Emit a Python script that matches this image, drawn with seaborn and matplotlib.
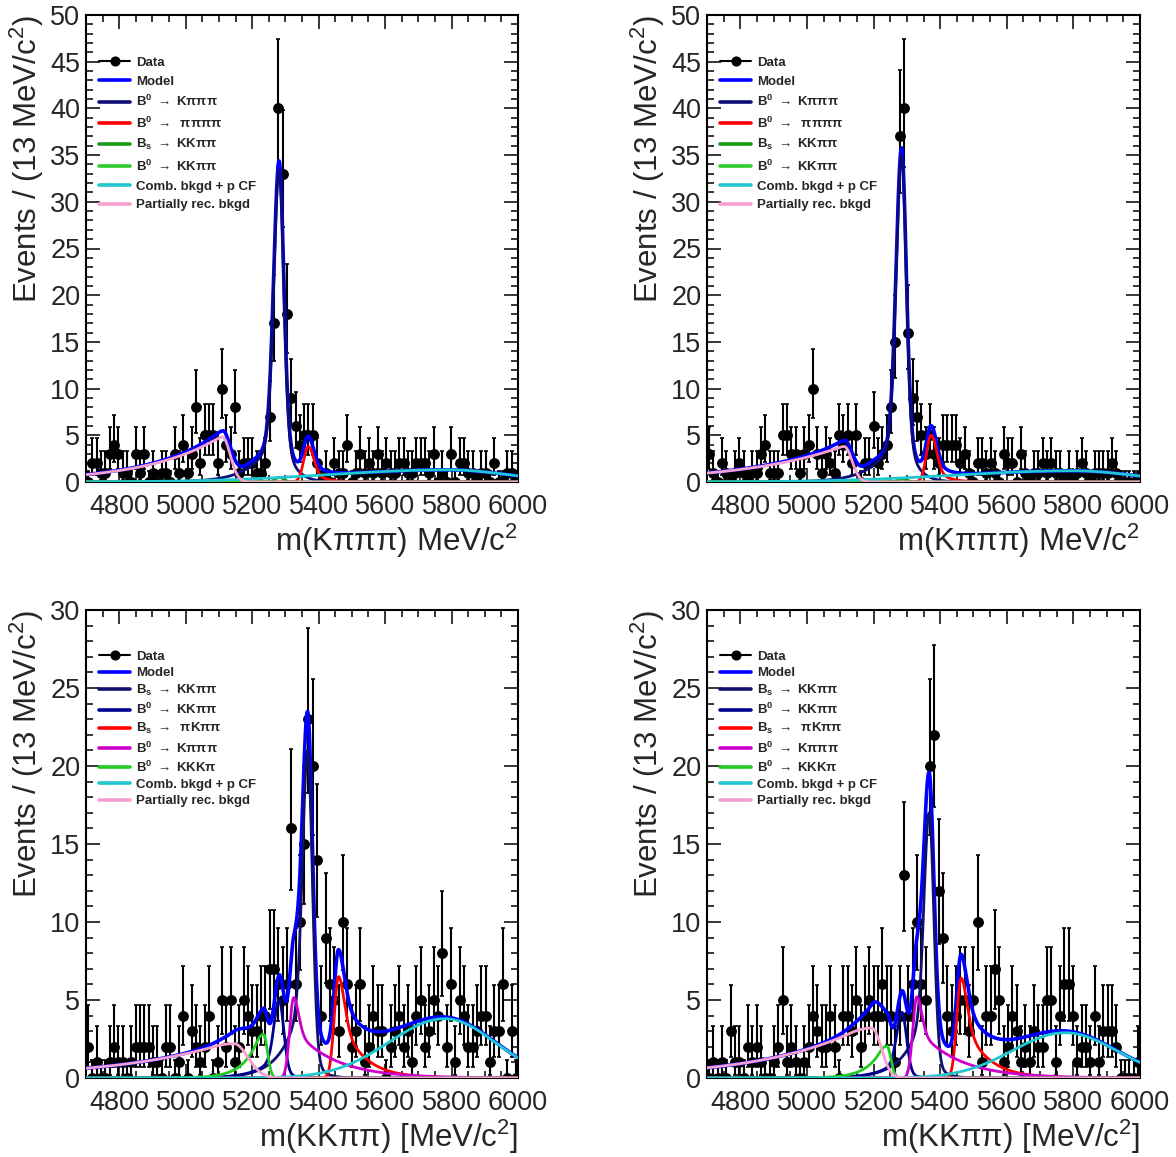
import numpy as np
import pandas as pd
import matplotlib
matplotlib.use("Agg")
import matplotlib.pyplot as plt
import seaborn as sns
from matplotlib.lines import Line2D
from matplotlib.ticker import MultipleLocator

sns.set_style("ticks")
plt.rcParams["font.family"] = ["Liberation Sans", "DejaVu Sans"]
plt.rcParams["mathtext.fontset"] = "custom"
plt.rcParams["mathtext.rm"] = "Liberation Sans"
plt.rcParams["mathtext.bf"] = "Liberation Sans:bold"
plt.rcParams["mathtext.it"] = "Liberation Sans:italic"

# ---------------- binning ----------------
X_LO, X_HI, BIN_W = 4700, 6000, 13
x_ticks = [4800, 5000, 5200, 5400, 5600, 5800, 6000]

# ---------------- data (events per 13 MeV bin) ----------------
counts_tl = [0, 2, 2, 1, 1, 3, 4, 3, 1, 1,
             0, 3, 1, 3, 0, 1, 0, 1, 1, 0,
             3, 1, 4, 1, 3, 8, 2, 5, 5, 5,
             2, 10, 4, 3, 8, 1, 2, 2, 2, 1,
             1, 2, 7, 17, 40, 33, 18, 9, 6, 4,
             5, 5, 5, 2, 0, 1, 0, 2, 1, 1,
             4, 0, 1, 3, 1, 2, 1, 3, 1, 2,
             1, 1, 2, 2, 1, 1, 2, 2, 2, 1,
             3, 0, 1, 0, 3, 0, 2, 2, 1, 1,
             0, 1, 1, 0, 2, 0, 0, 1, 1, 0]

counts_tr = [3, 1, 0, 2, 1, 0, 1, 2, 1, 0,
             1, 1, 3, 4, 1, 1, 1, 5, 5, 3,
             3, 1, 3, 4, 10, 3, 1, 3, 2, 1,
             5, 4, 5, 2, 5, 0, 2, 2, 6, 2,
             3, 4, 8, 15, 37, 40, 16, 9, 7, 5,
             3, 5, 3, 2, 4, 4, 4, 4, 2, 3,
             1, 0, 2, 2, 1, 2, 1, 0, 3, 2,
             2, 0, 3, 1, 0, 1, 1, 2, 1, 2,
             1, 1, 0, 1, 0, 1, 2, 1, 0, 1,
             1, 1, 1, 2, 1, 0, 0, 0, 0, 0]

counts_bl = [2, 0, 1, 0, 0, 1, 2, 1, 1, 0,
             1, 2, 2, 2, 2, 1, 1, 0, 2, 2,
             0, 1, 4, 0, 3, 2, 1, 2, 4, 0,
             1, 5, 2, 5, 1, 2, 5, 4, 3, 3,
             4, 4, 7, 7, 6, 5, 6, 16, 6, 10,
             15, 23, 20, 14, 4, 9, 6, 5, 3, 10,
             6, 2, 3, 6, 1, 2, 4, 3, 3, 0,
             2, 3, 4, 2, 3, 1, 4, 5, 2, 3,
             5, 4, 8, 2, 6, 1, 5, 4, 2, 2,
             3, 4, 4, 1, 3, 3, 6, 0, 3, 0]

counts_br = [0, 1, 0, 1, 0, 3, 1, 1, 0, 2,
             1, 2, 1, 0, 0, 1, 2, 5, 1, 2,
             1, 0, 1, 2, 4, 3, 2, 2, 4, 2,
             0, 4, 4, 3, 5, 2, 4, 5, 4, 4,
             6, 4, 4, 1, 4, 13, 4, 6, 10, 6,
             5, 20, 22, 12, 9, 4, 3, 4, 5, 5,
             3, 5, 10, 1, 4, 4, 7, 5, 1, 2,
             4, 3, 1, 2, 1, 3, 2, 2, 5, 5,
             1, 4, 6, 6, 4, 1, 2, 2, 1, 4,
             1, 3, 3, 3, 2, 0, 0, 0, 0, 1]

# ---------------- fit components ----------------
# (legend label, colour, peak position, peak height, left side, right side)
# side = (core sigma, tail fraction, tail sigma, tail decay length)
NAVY_L = (16, 0.17, 30, 65)
NAVY_R = (14, 0.20, 20, 30)
comps_tl = [
    (r"B$^{\mathbf{0}}$ $\rightarrow$ Kπππ", "#0c0c78", 5281, 33.4, NAVY_L, NAVY_R),
    (r"B$^{\mathbf{0}}$ $\rightarrow$  ππππ", "#ff0000", 5369, 3.8, (14, 0, 1, 1), (16, 0.3, 25, 35)),
    (r"B$_{\mathbf{s}}$ $\rightarrow$ KKππ", "#139a13", 5282, 0.5, (13, 0, 1, 1), (13, 0, 1, 1)),
    (r"B$^{\mathbf{0}}$ $\rightarrow$ KKππ", "#2fcc2f", 5195, 0.12, (20, 0, 1, 1), (20, 0, 1, 1)),
    ("Comb. bkgd + p CF", "#1fc8cf", 5790, 1.3, (360, 0, 1, 1), (180, 0, 1, 1)),
    ("Partially rec. bkgd", "#f5a0cf", 5111, 4.8, (30, 1.0, 60, 222), (23, 0, 1, 1)),
]
comps_tr = [
    (r"B$^{\mathbf{0}}$ $\rightarrow$ Kπππ", "#0c0c78", 5284, 35.0, NAVY_L, NAVY_R),
    (r"B$^{\mathbf{0}}$ $\rightarrow$  ππππ", "#ff0000", 5373, 5.0, (14, 0, 1, 1), (16, 0.3, 25, 35)),
    (r"B$_{\mathbf{s}}$ $\rightarrow$ KKππ", "#139a13", 5287, 0.35, (13, 0, 1, 1), (13, 0, 1, 1)),
    (r"B$^{\mathbf{0}}$ $\rightarrow$ KKππ", "#2fcc2f", 5190, 0.25, (20, 0, 1, 1), (20, 0, 1, 1)),
    ("Comb. bkgd + p CF", "#1fc8cf", 5800, 1.2, (360, 0, 1, 1), (180, 0, 1, 1)),
    ("Partially rec. bkgd", "#f5a0cf", 5112, 3.8, (30, 1.0, 60, 294), (23, 0, 1, 1)),
]
KK_L = (15, 0.3, 30, 55)
KK_R = (14, 0.1, 20, 25)
comps_bl = [
    (r"B$_{\mathbf{s}}$ $\rightarrow$ KKππ", "#10106e", 5367, 21.0, KK_L, KK_R),
    (r"B$^{\mathbf{0}}$ $\rightarrow$ KKππ", "#00008f", 5281, 5.0, KK_L, KK_R),
    (r"B$_{\mathbf{s}}$ $\rightarrow$  πKππ", "#ff0000", 5460, 6.5, (13, 0, 1, 1), (18, 0.6, 25, 68)),
    (r"B$^{\mathbf{0}}$ $\rightarrow$ Kπππ", "#cc00cc", 5325, 5.15, (12, 0, 1, 1), (15, 0.6, 30, 120)),
    (r"B$^{\mathbf{0}}$ $\rightarrow$ KKKπ", "#22cc22", 5234, 2.8, (20, 1.0, 32, 46), (12, 0, 1, 1)),
    ("Comb. bkgd + p CF", "#1fc8cf", 5780, 3.8, (168, 0, 1, 1), (150, 0, 1, 1)),
    ("Partially rec. bkgd", "#f5a0cf", 5145, 2.2, (30, 1.0, 140, 330), (42, 0, 1, 1)),
]
comps_br = [
    (r"B$_{\mathbf{s}}$ $\rightarrow$ KKππ", "#10106e", 5367, 17.0, KK_L, KK_R),
    (r"B$^{\mathbf{0}}$ $\rightarrow$ KKππ", "#00008f", 5285, 4.2, KK_L, KK_R),
    (r"B$_{\mathbf{s}}$ $\rightarrow$  πKππ", "#ff0000", 5463, 6.4, (13, 0, 1, 1), (18, 0.6, 25, 68)),
    (r"B$^{\mathbf{0}}$ $\rightarrow$ Kπππ", "#cc00cc", 5330, 5.2, (12, 0, 1, 1), (15, 0.6, 30, 120)),
    (r"B$^{\mathbf{0}}$ $\rightarrow$ KKKπ", "#22cc22", 5240, 2.05, (20, 1.0, 32, 46), (12, 0, 1, 1)),
    ("Comb. bkgd + p CF", "#1fc8cf", 5775, 2.9, (158, 0, 1, 1), (154, 0, 1, 1)),
    ("Partially rec. bkgd", "#f5a0cf", 5195, 3.2, (30, 1.0, 140, 290), (28, 0, 1, 1)),
]

MODEL_COLOR = "#0000ff"


def side(d, s, w, s2, lam):
    g = np.exp(-0.5 * (d / s) ** 2)
    if w <= 0:
        return g
    a = s2 / lam
    z = np.abs(d) / s2
    ge = np.where(z < a, np.exp(-0.5 * z ** 2), np.exp(0.5 * a * a - a * z))
    return (1 - w) * g + w * ge


def shape(x, m, h, left, right):
    d = x - m
    return h * np.where(d < 0, side(d, *left), side(d, *right))


def poisson_errors(n):
    n = np.asarray(n, float)
    nn = np.maximum(n, 1)
    up = np.where(n > 0, np.sqrt(n + 0.75) + 1.0, 1.147)
    lo = np.where(n > 0, n - n * (1 - 1 / (9 * nn) - 1 / (3 * np.sqrt(nn))) ** 3, 0.0)
    return lo, up


fig = plt.figure(figsize=(11.76, 11.57), dpi=100)
W, H = 1176, 1157
ax_tl = fig.add_axes([86 / W, 1 - 482 / H, 432 / W, 467 / H])
ax_tr = fig.add_axes([707 / W, 1 - 482 / H, 433 / W, 467 / H])
ax_bl = fig.add_axes([86 / W, 1 - 1078 / H, 432 / W, 468 / H])
ax_br = fig.add_axes([707 / W, 1 - 1078 / H, 433 / W, 468 / H])

xs = np.linspace(X_LO, X_HI, 1301)
centers = X_LO + BIN_W * (np.arange(100) + 0.5)


def panel(ax, counts, comps, ymax, xlabel, legend_top, spacing):
    counts = np.asarray(counts)
    lo, up = poisson_errors(counts)
    ax.errorbar(centers, counts, yerr=[lo, up], fmt="o", color="black",
                ms=6.8, elinewidth=1.5, capsize=1.6, capthick=1.2, zorder=2,
                clip_on=True)
    total = np.zeros_like(xs)
    for lab, col, m, h, l, r in comps:
        total += shape(xs, m, h, l, r)
    df = pd.DataFrame({"x": xs, "y": total})
    sns.lineplot(data=df, x="x", y="y", ax=ax, color=MODEL_COLOR, linewidth=2.6,
                 estimator=None, zorder=3)
    for lab, col, m, h, l, r in comps:
        dfc = pd.DataFrame({"x": xs, "y": shape(xs, m, h, l, r)})
        sns.lineplot(data=dfc, x="x", y="y", ax=ax, color=col, linewidth=2.0,
                     estimator=None, zorder=4)
    ax.set_xlim(X_LO, X_HI)
    ax.set_ylim(0, ymax)
    ax.set_xticks(x_ticks)
    ax.xaxis.set_minor_locator(MultipleLocator(50))
    ax.yaxis.set_major_locator(MultipleLocator(5))
    ax.yaxis.set_minor_locator(MultipleLocator(1))
    ax.tick_params(which="both", direction="in", top=True, right=True,
                   labelsize=19.5, width=1.3)
    ax.tick_params(axis="x", which="both", pad=9)
    ax.tick_params(axis="y", which="both", pad=4)
    ax.tick_params(which="major", length=10)
    ax.tick_params(which="minor", length=5)
    for sp in ax.spines.values():
        sp.set_linewidth(1.5)
        sp.set_color("black")
    ax.set_xlabel(xlabel, fontsize=22.5, loc="right", labelpad=1)
    ax.set_ylabel(r"Events / (13 MeV/c$^{2}$)", fontsize=22.5, loc="top", labelpad=3)

    handles = [Line2D([0], [0], color="black", marker="o", ms=6.3, lw=1.5),
               Line2D([0], [0], color=MODEL_COLOR, lw=2.6)]
    labels = ["Data", "Model"]
    for lab, col, m, h, l, r in comps:
        handles.append(Line2D([0], [0], color=col, lw=2.6))
        labels.append(lab)
    leg = ax.legend(handles, labels, loc="upper left", bbox_to_anchor=(0.031, legend_top),
                    frameon=False, prop={"size": 9.5, "weight": "bold"},
                    handlelength=2.3, handletextpad=0.5, labelspacing=spacing,
                    borderpad=0, borderaxespad=0)
    return leg


panel(ax_tl, counts_tl, comps_tl, 50, "m(Kπππ) MeV/c$^{2}$", 0.911, 0.49)
panel(ax_tr, counts_tr, comps_tr, 50, "m(Kπππ) MeV/c$^{2}$", 0.911, 0.49)
panel(ax_bl, counts_bl, comps_bl, 30, "m(KKππ) [MeV/c$^{2}$]", 0.913, 0.30)
panel(ax_br, counts_br, comps_br, 30, "m(KKππ) [MeV/c$^{2}$]", 0.913, 0.30)

fig.savefig("out.png", dpi=100)
